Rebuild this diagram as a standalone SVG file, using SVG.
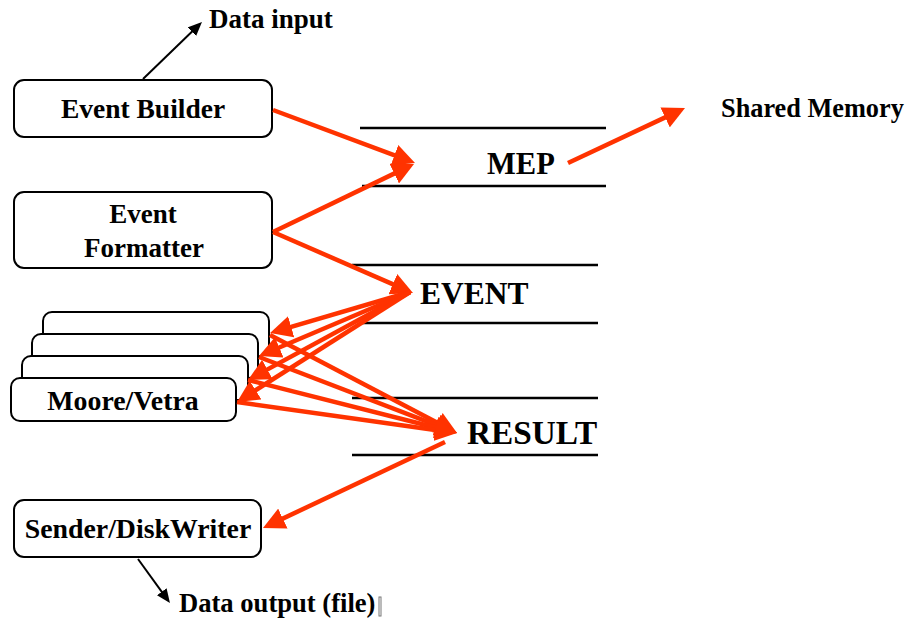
<svg xmlns="http://www.w3.org/2000/svg" width="911" height="618" viewBox="0 0 911 618">
<style>
.box{fill:#fff;stroke:#000;stroke-width:2}
.t{font-family:"Liberation Serif","Times New Roman",serif;font-weight:bold;fill:#000}
.hl{stroke:#000;stroke-width:2.5}
.red{stroke:#ff3300;stroke-width:4.5;fill:none;marker-end:url(#rh)}
.blk{stroke:#000;stroke-width:2;fill:none;marker-end:url(#bh)}
</style>
<defs>
<marker id="rh" markerUnits="userSpaceOnUse" markerWidth="22" markerHeight="22" refX="16" refY="11" orient="auto">
<path d="M0,0 L22,11 L0,22 z" fill="#ff3300"/>
</marker>
<marker id="bh" markerUnits="userSpaceOnUse" markerWidth="14" markerHeight="12" refX="10" refY="6" orient="auto">
<path d="M0,0 L14,6 L0,12 z" fill="#000"/>
</marker>
</defs>
<rect width="911" height="618" fill="#fff"/>
<g id="buffers">
<line class="hl" x1="360" y1="128" x2="606" y2="128"/>
<line class="hl" x1="362" y1="186" x2="606" y2="186"/>
<line class="hl" x1="352" y1="265" x2="598" y2="265"/>
<line class="hl" x1="362" y1="323" x2="598" y2="323"/>
<line class="hl" x1="352" y1="398" x2="598" y2="398"/>
<line class="hl" x1="352" y1="455" x2="598" y2="455"/>
</g>
<g id="event-builder">
<rect class="box" x="14" y="80" width="258" height="57" rx="10"/>
<text class="t" x="143" y="118" font-size="27.5" text-anchor="middle">Event Builder</text>
</g>
<g id="event-formatter">
<rect class="box" x="14" y="192" width="258" height="76" rx="10"/>
<text class="t" x="143" y="223" font-size="27" text-anchor="middle">Event</text>
<text class="t" x="144" y="257" font-size="27" text-anchor="middle">Formatter</text>
</g>
<g id="moore-vetra">
<rect class="box" x="43" y="312" width="226" height="44" rx="9"/>
<rect class="box" x="32" y="334" width="226" height="44" rx="9"/>
<rect class="box" x="22" y="356" width="226" height="44" rx="9"/>
<rect class="box" x="11" y="378" width="225" height="43" rx="9"/>
<text class="t" x="123" y="410" font-size="27.8" text-anchor="middle">Moore/Vetra</text>
</g>
<g id="sender">
<rect class="box" x="14" y="500" width="247" height="57" rx="10"/>
<text class="t" x="138" y="538" font-size="27.8" text-anchor="middle">Sender/DiskWriter</text>
</g>
<g id="mep"><text class="t" x="487" y="174" font-size="30.5">MEP</text></g>
<g id="event"><text class="t" x="420" y="304" font-size="31.5">EVENT</text></g>
<g id="result"><text class="t" x="467" y="444" font-size="33.3">RESULT</text></g>
<g id="shared-memory"><text class="t" x="721" y="117" font-size="26.3">Shared Memory</text></g>
<g id="data-input"><text class="t" x="209" y="28" font-size="27">Data input</text></g>
<g id="data-output"><text class="t" x="179" y="612" font-size="26.6">Data output (file)</text>
<rect x="379" y="597" width="2" height="19" fill="none" stroke="#777" stroke-width="1"/></g>
<g id="connectors">
<line class="red" x1="273" y1="110" x2="409.4" y2="160.9"/>
<line class="red" x1="273" y1="232" x2="408.6" y2="166.6"/>
<line class="red" x1="273" y1="232" x2="407.5" y2="290.6"/>
<line class="red" x1="568" y1="163" x2="679.6" y2="110.6"/>
<line class="red" x1="410" y1="292" x2="275.8" y2="331.3"/>
<line class="red" x1="410" y1="292" x2="264.5" y2="353.7"/>
<line class="red" x1="410" y1="292" x2="253.3" y2="377.1"/>
<line class="red" x1="410" y1="292" x2="242.1" y2="398.8"/>
<line class="red" x1="270" y1="335" x2="451.7" y2="430.2"/>
<line class="red" x1="259" y1="357" x2="451.4" y2="430.9"/>
<line class="red" x1="248" y1="380" x2="451.2" y2="431.5"/>
<line class="red" x1="237" y1="402" x2="451.1" y2="432.2"/>
<line class="red" x1="445" y1="442" x2="268.4" y2="525.4"/>
<line class="blk" x1="143" y1="79" x2="199.1" y2="24.8"/>
<line class="blk" x1="138" y1="559" x2="167.6" y2="599.8"/>
</g>
</svg>
